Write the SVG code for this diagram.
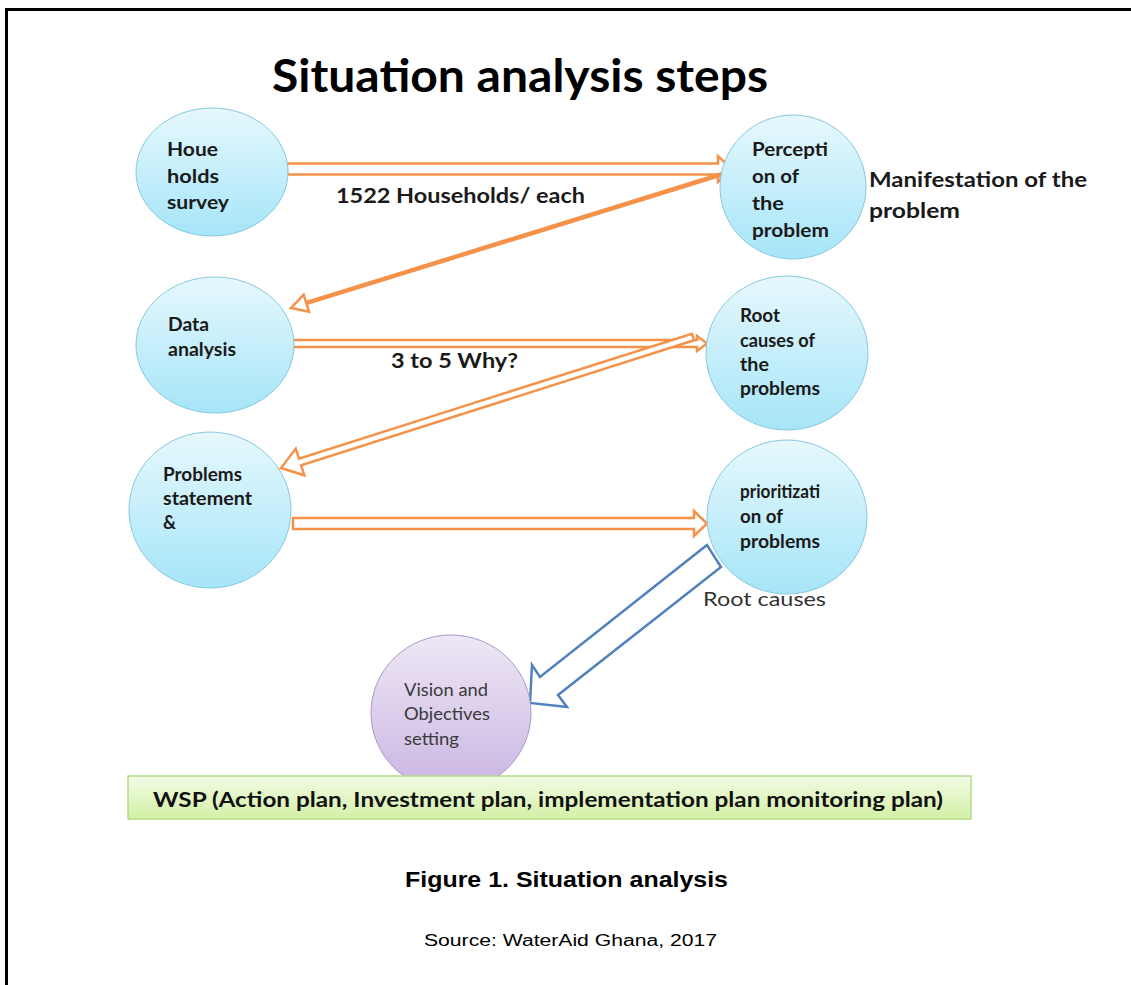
<svg xmlns="http://www.w3.org/2000/svg" width="1131" height="985" viewBox="0 0 1131 985">
<defs>
<linearGradient id="gBlue" x1="0" y1="0" x2="0" y2="1">
<stop offset="0" stop-color="#e6f8fd"/>
<stop offset="1" stop-color="#a6e5f8"/>
</linearGradient>
<linearGradient id="gPurple" x1="0" y1="0" x2="0" y2="1">
<stop offset="0" stop-color="#efe8f6"/>
<stop offset="1" stop-color="#c9b5e2"/>
</linearGradient>
<linearGradient id="gGreen" x1="0" y1="0" x2="0" y2="1">
<stop offset="0" stop-color="#f3fbe6"/>
<stop offset="1" stop-color="#d3f0a6"/>
</linearGradient>
<style>
.cb{fill:url(#gBlue);stroke:#86c8df;stroke-width:1}
.cp{fill:url(#gPurple);stroke:#a897c9;stroke-width:1}
.nl{font-family:Lato,"Liberation Sans",sans-serif;font-weight:bold;font-size:18px;fill:#1a1a1a}
.vl{font-family:Lato,"Liberation Sans",sans-serif;font-size:18px;fill:#3a3a3a}
.lb{font-family:Lato,"Liberation Sans",sans-serif;font-weight:bold;font-size:20px;fill:#1a1a1a}
.oa{fill:#ffffff;stroke:#f4924a;stroke-width:2.5;stroke-linejoin:miter}
.ol{fill:none;stroke:#f4924a;stroke-width:4.5}
.ba{fill:#ffffff;stroke:#4f81bd;stroke-width:2.5;stroke-linejoin:miter}
.ar{font-family:"Liberation Sans",Arial,sans-serif;fill:#000}
</style>
</defs>
<rect x="0" y="0" width="1131" height="985" fill="#ffffff"/>
<path d="M6.5,985 L6.5,9.5 L1131,9.5" fill="none" stroke="#000" stroke-width="3"/>

<text x="272" y="92" font-family="Lato,'Liberation Sans',sans-serif" font-weight="bold" font-size="46" fill="#000" textLength="496" lengthAdjust="spacingAndGlyphs">Situation analysis steps</text>

<g id="connectors">
<polygon class="oa" points="287,163.5 718,163.5 718,156 732,169 718,182 718,174.5 287,174.5"/>
<line class="ol" x1="729" y1="172" x2="306" y2="303.2"/>
<polygon class="oa" points="309,311.8 291,308 303.6,294.6"/>
<polygon class="oa" points="288,340 697,340 697,336 707,343.5 697,351 697,347 288,347"/>
<polygon class="oa" points="694.1,340.3 301.1,465.3 304.3,475.3 281,468 295.8,448.6 299,458.6 691.9,333.7"/>
<polygon class="oa" points="293,518 694,518 694,511 707,523.5 694,536 694,529 293,529"/>
<polygon class="ba" points="707,545 540,677 532,665 530,703 567,707 558,695 721,567"/>
<text class="lb" x="336" y="203" textLength="249" lengthAdjust="spacingAndGlyphs">1522 Households/ each</text>
<text class="lb" x="391" y="368" textLength="127" lengthAdjust="spacingAndGlyphs">3 to 5 Why?</text>
<text x="703" y="606" font-family="Lato,'Liberation Sans',sans-serif" font-size="20" fill="#333" textLength="123" lengthAdjust="spacingAndGlyphs">Root causes</text>
</g>

<g id="node-households">
<ellipse class="cb" cx="212" cy="172" rx="76" ry="64"/>
<text class="nl" x="167" y="156" textLength="51" lengthAdjust="spacingAndGlyphs">Houe</text>
<text class="nl" x="167" y="183" textLength="52" lengthAdjust="spacingAndGlyphs">holds</text>
<text class="nl" x="167" y="209" textLength="62" lengthAdjust="spacingAndGlyphs">survey</text>
</g>

<g id="node-perception">
<ellipse class="cb" cx="793" cy="187" rx="73" ry="72"/>
<text class="nl" x="752" y="156" textLength="76" lengthAdjust="spacingAndGlyphs">Percepti</text>
<text class="nl" x="752" y="183" textLength="47" lengthAdjust="spacingAndGlyphs">on of</text>
<text class="nl" x="752" y="210" textLength="32" lengthAdjust="spacingAndGlyphs">the</text>
<text class="nl" x="752" y="237" textLength="77" lengthAdjust="spacingAndGlyphs">problem</text>
</g>
<g id="label-manifestation">
<text class="lb" x="869" y="187" textLength="218" lengthAdjust="spacingAndGlyphs">Manifestation of the</text>
<text class="lb" x="869" y="218" textLength="91" lengthAdjust="spacingAndGlyphs">problem</text>
</g>

<g id="node-data-analysis">
<ellipse class="cb" cx="215" cy="345" rx="79" ry="68"/>
<text class="nl" x="168" y="331" textLength="41" lengthAdjust="spacingAndGlyphs">Data</text>
<text class="nl" x="168" y="356" textLength="68" lengthAdjust="spacingAndGlyphs">analysis</text>
</g>

<g id="node-root-causes">
<ellipse class="cb" cx="787" cy="353" rx="81" ry="77"/>
<text class="nl" x="740" y="322" textLength="40" lengthAdjust="spacingAndGlyphs">Root</text>
<text class="nl" x="740" y="347" textLength="75" lengthAdjust="spacingAndGlyphs">causes of</text>
<text class="nl" x="740" y="371" textLength="29" lengthAdjust="spacingAndGlyphs">the</text>
<text class="nl" x="740" y="395" textLength="80" lengthAdjust="spacingAndGlyphs">problems</text>
</g>

<g id="node-problems-statement">
<ellipse class="cb" cx="210" cy="510" rx="81" ry="78"/>
<text class="nl" x="163" y="481" textLength="79" lengthAdjust="spacingAndGlyphs">Problems</text>
<text class="nl" x="163" y="505" textLength="89" lengthAdjust="spacingAndGlyphs">statement</text>
<text class="nl" x="163" y="529">&amp;</text>
</g>

<g id="node-prioritization">
<ellipse class="cb" cx="787" cy="517" rx="80" ry="77"/>
<text class="nl" x="740" y="498" textLength="80" lengthAdjust="spacingAndGlyphs">prioritizati</text>
<text class="nl" x="740" y="523" textLength="43" lengthAdjust="spacingAndGlyphs">on of</text>
<text class="nl" x="740" y="548" textLength="80" lengthAdjust="spacingAndGlyphs">problems</text>
</g>

<g id="node-vision">
<ellipse class="cp" cx="451" cy="713" rx="80" ry="78"/>
<text class="vl" x="404" y="696" textLength="84" lengthAdjust="spacingAndGlyphs">Vision and</text>
<text class="vl" x="404" y="720" textLength="86" lengthAdjust="spacingAndGlyphs">Objectives</text>
<text class="vl" x="404" y="745" textLength="55" lengthAdjust="spacingAndGlyphs">setting</text>
</g>

<g id="node-wsp">
<rect x="128" y="776" width="843" height="43" fill="url(#gGreen)" stroke="#b3da8c" stroke-width="1.5"/>
<text x="153" y="807" font-family="Lato,'Liberation Sans',sans-serif" font-weight="bold" font-size="21" fill="#111" textLength="790" lengthAdjust="spacingAndGlyphs">WSP (Action plan, Investment plan, implementation plan monitoring plan)</text>
</g>

<text class="ar" x="405" y="887" font-size="22" font-weight="bold" textLength="323" lengthAdjust="spacingAndGlyphs">Figure 1. Situation analysis</text>
<text class="ar" x="424" y="946" font-size="16" textLength="293" lengthAdjust="spacingAndGlyphs">Source: WaterAid Ghana, 2017</text>
</svg>
